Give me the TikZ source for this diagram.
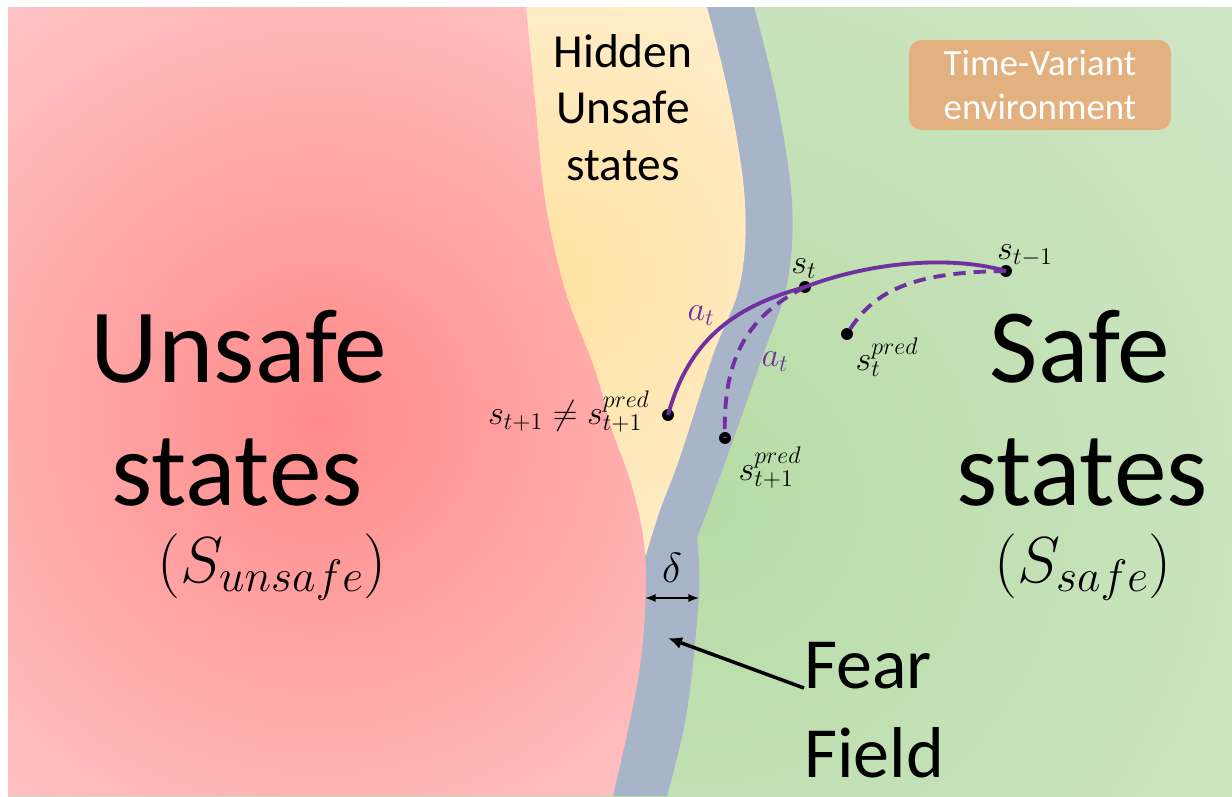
\RequirePackage{fix-cm}
\documentclass[tikz,border=0pt]{standalone}
\usepackage[no-math]{fontspec}
\setmainfont{Carlito}
\usetikzlibrary{arrows.meta}
\definecolor{cred}{HTML}{FF8A8A}
\definecolor{credout}{HTML}{FFD2D2}
\definecolor{cyel}{HTML}{FFE2A2}
\definecolor{cyelout}{HTML}{FFF0D4}
\definecolor{cfear}{HTML}{A8B5C8}
\definecolor{cgreen}{HTML}{B7DCA6}
\definecolor{cgreenout}{HTML}{E4EFE0}
\definecolor{cbox}{HTML}{E3B07F}
\definecolor{ctraj}{HTML}{7030A0}
\tikzset{
  big/.style={font=\fontsize{60}{70}\selectfont, inner sep=0pt, anchor=base},
  hid/.style={font=\fontsize{27}{32}\selectfont, inner sep=0pt, anchor=base},
  fear/.style={font=\fontsize{41}{48}\selectfont, inner sep=0pt, anchor=base west},
  setlbl/.style={font=\fontsize{37}{42}\selectfont, inner sep=0pt, anchor=base},
  lbl/.style={font=\fontsize{19.5}{22}\selectfont, inner sep=0pt},
  act/.style={lbl, text=ctraj},
  state/.style={circle, fill=black, inner sep=0pt, minimum size=6.8pt},
  traj/.style={draw=ctraj, line width=2.2pt},
  pred/.style={traj, dash pattern=on 7pt off 4.5pt},
  tvbox/.style={rectangle, rounded corners=7pt, fill=cbox, text=white, align=center,
                minimum width=5.24cm, minimum height=1.8cm, font=\fontsize{21}{25.5}\selectfont},
  dgap/.style={{Latex[length=6pt,width=4.5pt]}-{Latex[length=6pt,width=4.5pt]}, line width=0.8pt},
  ptr/.style={-{Latex[length=8pt,width=7pt]}, line width=2pt}
}
\begin{document}
\begin{tikzpicture}[x=0.02cm, y=-0.02cm]
\useasboundingbox (0,0) rectangle (1232,796);

% regions
\begin{scope}
\clip (8,7) rectangle (1232,796);
\shade[inner color=cgreen, outer color=cgreenout] (700,500) circle (1300);
\end{scope}
\fill[cfear] (8,7) -- (754,7)
  -- plot[smooth, tension=0.6] coordinates {(754,7) (777,101) (792,203) (787,284) (763,355) (727,457) (697,538)}
  -- plot[smooth, tension=0.6] coordinates {(697,538) (699,594) (687,711) (667,796)}
  -- (8,796) -- cycle;
\begin{scope}
\clip (8,7) -- (707,7)
  -- plot[smooth, tension=0.6] coordinates {(707,7) (730,101) (745,203) (740,284) (713,355) (680,457) (660,510) (646,555)}
  -- (8,555) -- cycle;
\shade[inner color=cyel, outer color=cyelout] (555,280) circle (380);
\end{scope}
\begin{scope}
\clip (8,7)
  -- plot[smooth, tension=0.6] coordinates {(526,7) (535,100) (545,200) (565,290) (595,370) (612,430) (630,480) (642,530) (646,580) (642,650) (632,711) (613,796)}
  -- (8,796) -- cycle;
\shade[inner color=cred, outer color=credout] (320,420) circle (640);
\end{scope}

% texts
\node[big] (uns1) at (239,382) {Unsafe};
\node[big] (uns2) at (237,505) {states};
\node[setlbl] (unsset) at (272,582) {$(S_{unsafe})$};
\node[big] (saf1) at (1080,382) {Safe};
\node[big] (saf2) at (1082,505) {states};
\node[setlbl] (safset) at (1083,582) {$(S_{safe})$};
\node[hid] (hid1) at (623,67) {Hidden};
\node[hid] (hid2) at (623,123) {Unsafe};
\node[hid] (hid3) at (623,180) {states};
\node[fear] (fear1) at (804,688) {Fear};
\node[fear] (fear2) at (804,777) {Field};
\node[tvbox] (tv) at (1040,85) {Time-Variant\\environment};

% states and trajectories
\node[state] (stm) at (1006,271) {};
\node[state] (st) at (805,287) {};
\node[state] (stp) at (847,334) {};
\node[state] (snp) at (725,438) {};
\node[state] (snx) at (668,415) {};

\draw[traj] (stm.center) .. controls (950,255) and (870,262) .. (st.center)
  .. controls (740,305) and (690,335) .. (snx.center);
\draw[pred] (stm.center) .. controls (910,272) and (872,292) .. (stp.center);
\draw[pred] (st.center) .. controls (750,315) and (722,355) .. (snp.center);

\node[lbl] (lstm) at (1025,256) {$s_{t-1}$};
\node[lbl] (lst) at (804,269) {$s_t$};
\node[lbl] (lstp) at (887,357) {$s_t^{pred}$};
\node[lbl] (lsnp) at (770,468) {$s_{t+1}^{pred}$};
\node[lbl] (lsnx) at (569,412) {$s_{t+1}\neq s_{t+1}^{pred}$};
\node[act] (la1) at (701,316) {$a_t$};
\node[act] (la2) at (775,362) {$a_t$};

% fear field width and pointer
\coordinate (dl) at (645,598);
\coordinate (dr) at (699,598);
\draw[dgap] (dl) -- (dr);
\node[lbl, font=\fontsize{24}{28}\selectfont] (dlt) at (672,568) {$\delta$};
\coordinate (ftip) at (668,638);
\draw[ptr] (fear1.base west) -- (ftip);
\end{tikzpicture}
\end{document}
